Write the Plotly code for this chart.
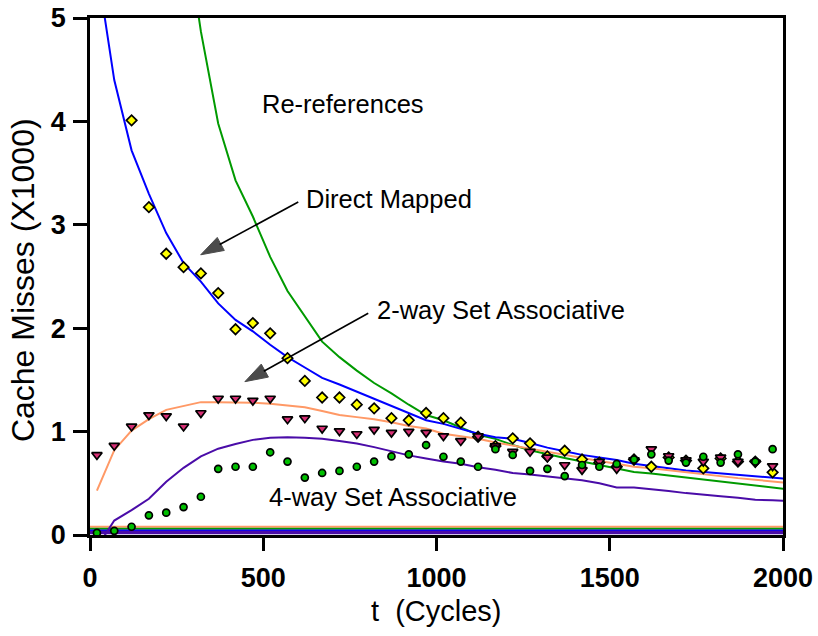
import plotly.graph_objects as go

# ---------------- data ----------------
t_sim = [20 + 50 * k for k in range(40)]          # simulation sample times
t_model = [20 + 50 * k for k in range(41)]        # model curve times

direct_sim = [6.3, 5.3, 4.01, 3.17, 2.72, 2.59, 2.53, 2.34, 1.99, 2.05,
              1.95, 1.71, 1.49, 1.33, 1.33, 1.26, 1.225, 1.13, 1.11, 1.18,
              1.13, 1.086, 0.95, 0.86, 0.935, 0.887, 0.76, 0.815, 0.73, 0.70,
              0.66, 0.73, 0.66, 0.75, 0.72, 0.645, 0.74, 0.71, 0.71, 0.606]

twoway_sim = [0.774, 0.864, 1.05, 1.16, 1.15, 1.05, 1.18, 1.32, 1.32, 1.30,
              1.32, 1.12, 1.13, 1.03, 1.005, 0.977, 1.02, 0.99, 1.0, 0.99,
              0.957, 0.91, 0.957, 0.86, 0.806, 0.806, 0.75, 0.677, 0.63, 0.71,
              0.64, 0.725, 0.83, 0.764, 0.725, 0.71, 0.75, 0.71, 0.70, 0.667]

fourway_sim = [0.02, 0.04, 0.08, 0.19, 0.216, 0.27, 0.37, 0.64, 0.66, 0.66,
               0.80, 0.71, 0.555, 0.60, 0.62, 0.66, 0.71, 0.76, 0.78, 0.87,
               0.757, 0.71, 0.66, 0.83, 0.774, 0.62, 0.64, 0.57, 0.677, 0.66,
               0.687, 0.73, 0.78, 0.72, 0.70, 0.757, 0.70, 0.78, 0.71, 0.83]

direct_model = [5.5, 4.40, 3.72, 3.30, 2.92, 2.63, 2.45, 2.24, 2.08, 1.97,
                1.84, 1.72, 1.62, 1.52, 1.455, 1.387, 1.32, 1.25, 1.18, 1.11,
                1.075, 1.03, 0.98, 0.945, 0.93, 0.89, 0.845, 0.81, 0.775, 0.75,
                0.725, 0.69, 0.665, 0.645, 0.625, 0.61, 0.595, 0.58, 0.565, 0.55,
                0.54]

twoway_model = [0.43, 0.82, 1.01, 1.12, 1.21, 1.25, 1.285, 1.285, 1.285, 1.28,
                1.27, 1.255, 1.235, 1.20, 1.16, 1.14, 1.12, 1.09, 1.055, 1.03,
                0.98, 0.955, 0.93, 0.895, 0.865, 0.835, 0.80, 0.77, 0.745, 0.715,
                0.69, 0.66, 0.645, 0.625, 0.605, 0.585, 0.57, 0.55, 0.535, 0.52,
                0.50]

reref_model = [None, None, None, None, None, 6.0, 4.87, 3.98, 3.43, 3.08,
               2.69, 2.36, 2.12, 1.87, 1.72, 1.59, 1.47, 1.37, 1.26, 1.16,
               1.11, 1.04, 0.97, 0.93, 0.87, 0.82, 0.78, 0.745, 0.71, 0.675,
               0.645, 0.61, 0.595, 0.575, 0.555, 0.54, 0.52, 0.50, 0.48, 0.46,
               0.44]

fourway_model = [-0.12, 0.14, 0.24, 0.35, 0.515, 0.65, 0.76, 0.835, 0.88, 0.92,
                 0.94, 0.945, 0.94, 0.93, 0.91, 0.885, 0.85, 0.81, 0.77, 0.74,
                 0.71, 0.69, 0.655, 0.63, 0.60, 0.585, 0.565, 0.55, 0.53, 0.50,
                 0.46, 0.46, 0.445, 0.425, 0.405, 0.387, 0.375, 0.36, 0.34, 0.335,
                 0.33]

# baseline levels near zero (orange, green, blue, purple)
baseline_t = [0, 2000]
baseline_levels = [0.08, 0.06, 0.045, 0.025]

x_ticks = [0, 500, 1000, 1500, 2000]
y_ticks = [0, 1, 2, 3, 4, 5]

# label texts and positions (data units)
label_texts = ["Re-references", "Direct Mapped", "2-way Set Associative",
               "4-way Set Associative"]
label_x = [731, 864, 1185, 875]
label_y = [4.17, 3.25, 2.18, 0.37]

# arrows: tail -> tip (data units)
arrow_tail_x = [601, 803]
arrow_tail_y = [3.22, 2.144]
arrow_tip_x = [319.5, 447]
arrow_tip_y = [2.71, 1.483]

# ---------------- styles ----------------
BLUE = "#0000FF"
GREEN = "#009A00"
ORANGE = "#FF9966"
PURPLE = "#4A0CA8"
PINK = "#D62F74"
YELLOW = "#FFFF00"
CGREEN = "#00C000"
FONT = "Liberation Sans, Arial, Helvetica, sans-serif"

fig = go.Figure()

# baseline lines
base_colors = [ORANGE, GREEN, BLUE, PURPLE]
base_widths = [2, 2, 1.5, 3.5]
for lvl, c, w in zip(baseline_levels, base_colors, base_widths):
    fig.add_trace(go.Scatter(x=baseline_t, y=[lvl, lvl], mode="lines",
                             line=dict(color=c, width=w), showlegend=False,
                             hoverinfo="skip"))

# model lines
for ys, c in [(reref_model, GREEN), (direct_model, BLUE),
              (twoway_model, ORANGE), (fourway_model, PURPLE)]:
    fig.add_trace(go.Scatter(x=t_model, y=ys, mode="lines",
                             line=dict(color=c, width=2),
                             showlegend=False, connectgaps=False))

# simulation markers
fig.add_trace(go.Scatter(x=t_sim, y=direct_sim, mode="markers",
                         marker=dict(symbol="diamond", size=8, color=YELLOW,
                                     line=dict(color="black", width=1.7)),
                         showlegend=False))
fig.add_trace(go.Scatter(x=t_sim, y=twoway_sim, mode="markers",
                         marker=dict(symbol="triangle-down", size=9, color=PINK,
                                     line=dict(color="black", width=1.7)),
                         showlegend=False))
fig.add_trace(go.Scatter(x=t_sim, y=fourway_sim, mode="markers",
                         marker=dict(symbol="circle", size=7, color=CGREEN,
                                     line=dict(color="black", width=1.7)),
                         showlegend=False))

# arrows drawn as line + arrow-head marker
for xa, ya, xt, yt in zip(arrow_tail_x, arrow_tail_y, arrow_tip_x, arrow_tip_y):
    fig.add_trace(go.Scatter(x=[xa, xt], y=[ya, yt], mode="lines+markers",
                             line=dict(color="black", width=1.6),
                             marker=dict(symbol=["circle", "arrow"], size=[0, 24],
                                         angleref="previous", color="black",
                                         line=dict(color="black", width=1)),
                             showlegend=False, hoverinfo="skip"))

# text labels
for txt, x, y in zip(label_texts, label_x, label_y):
    fig.add_annotation(x=x, y=y, xref="x", yref="y", text=txt, showarrow=False,
                       font=dict(family=FONT, size=25.5, color="black"),
                       xanchor="center", yanchor="middle")

# axis titles
fig.add_annotation(x=0.5, y=-0.147, xref="paper", yref="paper",
                   text="t\u00a0\u00a0(Cycles)", showarrow=False,
                   font=dict(family=FONT, size=29, color="black"),
                   xanchor="center", yanchor="middle")
fig.add_annotation(x=-0.0967, y=0.493, xref="paper", yref="paper",
                   text="Cache Misses (X1000)", showarrow=False, textangle=-90,
                   font=dict(family=FONT, size=32, color="black"),
                   xanchor="center", yanchor="middle")

fig.update_xaxes(range=[0, 2000], tickvals=x_ticks, ticktext=[str(v) for v in x_ticks],
                 ticks="outside", ticklen=13, tickwidth=2.5, tickcolor="black",
                 showline=True, linewidth=2.5, linecolor="black", mirror=True,
                 showgrid=False, zeroline=False, automargin=False,
                 tickfont=dict(family=FONT, size=27, color="black", weight="bold"),
                 ticklabelstandoff=4)
fig.update_yaxes(range=[0, 5], tickvals=y_ticks, ticktext=[str(v) for v in y_ticks],
                 ticks="outside", ticklen=14, tickwidth=2.5, tickcolor="black",
                 showline=True, linewidth=2.5, linecolor="black", mirror=True,
                 showgrid=False, zeroline=False, automargin=False,
                 tickfont=dict(family=FONT, size=27, color="black", weight="bold"),
                 ticklabelstandoff=2)

fig.update_layout(width=818, height=636,
                  margin=dict(l=90, r=35, t=18, b=101, autoexpand=False),
                  paper_bgcolor="white", plot_bgcolor="white",
                  showlegend=False)

fig.write_html("out.html")
